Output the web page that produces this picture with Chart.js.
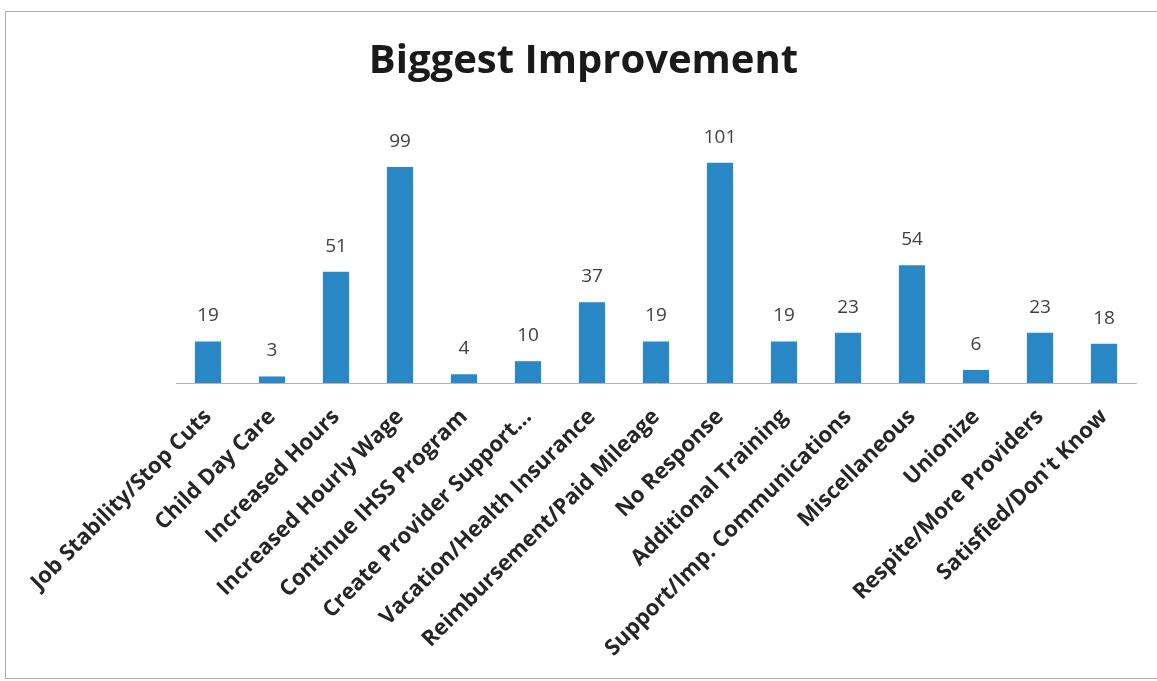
<!DOCTYPE html>
<html>
<head>
<meta charset="utf-8">
<title>Biggest Improvement</title>
<script src="https://cdn.jsdelivr.net/npm/chart.js@4"></script>
<style>
  html, body { margin: 0; padding: 0; background: #fff; }
  #wrap { position: relative; width: 1157px; height: 681px; overflow: hidden; }
  #frame { position: absolute; left: 5px; top: 11px; width: 1160px; height: 666px;
           border: 1px solid #a7acb0; pointer-events: none; }
</style>
</head>
<body>
<div id="wrap">
  <canvas id="barChart" width="1157" height="681"></canvas>
  <div id="frame"></div>
</div>
<script>
var categories = [
  "Job Stability/Stop Cuts", "Child Day Care", "Increased Hours", "Increased Hourly Wage",
  "Continue IHSS Program", "Create Provider Support...", "Vacation/Health Insurance",
  "Reimbursement/Paid Mileage", "No Response", "Additional Training",
  "Support/Imp. Communications", "Miscellaneous", "Unionize",
  "Respite/More Providers", "Satisfied/Don't Know"
];
var responses = [19, 3, 51, 99, 4, 10, 37, 19, 101, 19, 23, 54, 6, 23, 18];

var fontFamily = "'Open Sans', sans-serif";

// writes the count above each bar
var valueLabels = {
  id: 'valueLabels',
  afterDatasetsDraw: function(chart) {
    var ctx = chart.ctx;
    var meta = chart.getDatasetMeta(0);
    ctx.save();
    ctx.font = "19px " + fontFamily;
    ctx.fillStyle = "#404040";
    ctx.textAlign = "center";
    ctx.textBaseline = "bottom";
    meta.data.forEach(function(bar, i) {
      ctx.fillText(responses[i], bar.x, bar.y - 16);
    });
    ctx.restore();
  }
};

new Chart(document.getElementById("barChart"), {
  type: 'bar',
  data: {
    labels: categories,
    datasets: [{
      label: "Responses",
      data: responses,
      backgroundColor: "#2B88C6",
      barPercentage: 0.41,
      categoryPercentage: 1.0
    }]
  },
  options: {
    responsive: false,
    animation: false,
    layout: { padding: { left: 31, right: 21, top: 12, bottom: 0 } },
    plugins: {
      legend: { display: false },
      tooltip: { enabled: false },
      title: {
        display: true,
        text: "Biggest Improvement",
        color: "#1a1a1a",
        font: { family: fontFamily, size: 40, weight: 'bold' },
        padding: { top: 26, bottom: 20 }
      }
    },
    scales: {
      y: {
        display: true,
        min: 0,
        max: 127,
        grid: { display: false },
        border: { display: false },
        ticks: { display: false },
        afterFit: function(scale) { scale.width = 145; }
      },
      x: {
        grid: { display: false },
        border: { display: true, color: "#b5b5b5", width: 1 },
        ticks: {
          minRotation: 45,
          maxRotation: 45,
          autoSkip: false,
          color: "#262626",
          padding: 13,
          font: { family: fontFamily, size: 22, weight: 'bold' }
        },
        afterFit: function(scale) { scale.height = 298; }
      }
    }
  },
  plugins: [valueLabels]
});
</script>
</body>
</html>
